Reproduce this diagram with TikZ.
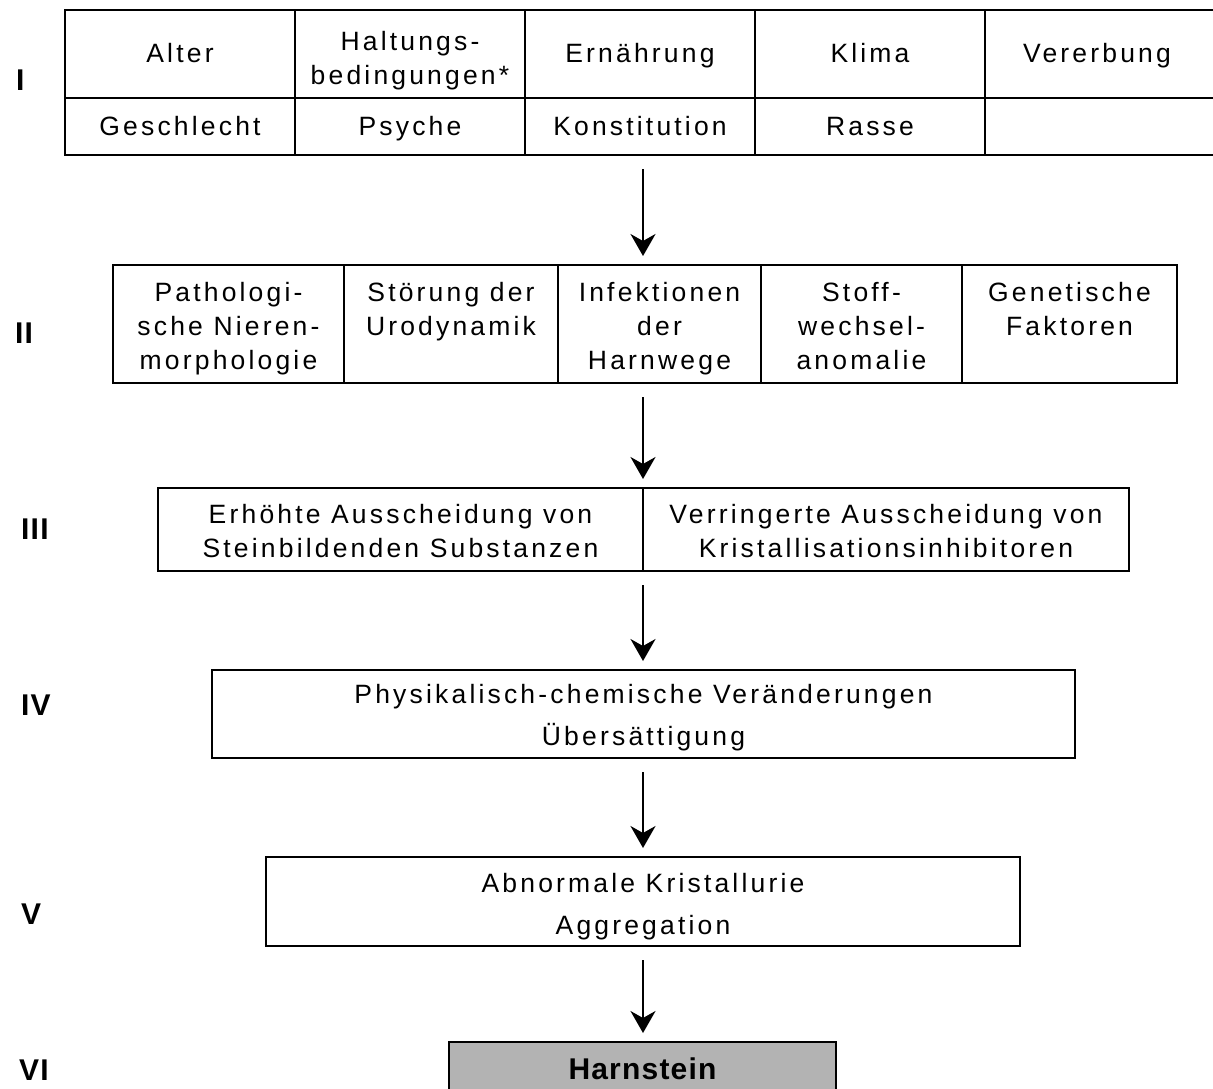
\documentclass[tikz,border=0pt]{standalone}
\usepackage{fontspec}
\setmainfont{Liberation Sans}
\newfontfamily\lsreg[LetterSpace=12]{Liberation Sans}
\newfontfamily\lsbold[LetterSpace=4]{Liberation Sans}
\usetikzlibrary{arrows.meta}
\tikzset{
  cellbox/.style={draw, line width=2.3pt, rectangle, inner sep=0pt, outer sep=0pt},
  txt/.style={font=\lsreg\fontsize{26.5}{34}\selectfont, align=center, inner sep=0pt, anchor=base},
  txtwide/.style={font=\lsreg\fontsize{26.5}{42}\selectfont, align=center, inner sep=0pt, anchor=base},
  roman/.style={font=\lsbold\bfseries\fontsize{30}{36}\selectfont, inner sep=0pt, anchor=base west},
  boldtxt/.style={font=\lsbold\bfseries\fontsize{30}{36}\selectfont, inner sep=0pt, anchor=base},
  arr/.style={-{Stealth[length=22pt,width=25pt,inset=7pt]}, line width=2.3pt, shorten <=14pt, shorten >=9pt},
}
\begin{document}
\begin{tikzpicture}[x=1pt,y=-1pt]
\useasboundingbox (0,0) rectangle (1213,1088);
\clip (0,0) rectangle (1213,1088);
\coordinate (ax) at (643,0);

% Roman numerals
\node[roman] (rI)   at (16,90)   {I};
\node[roman] (rII)  at (15,343)  {II};
\node[roman] (rIII) at (21,539)  {III};
\node[roman] (rIV)  at (21,715)  {IV};
\node[roman] (rV)   at (21,924)  {V};
\node[roman] (rVI)  at (19,1080) {VI};

% Level I table
\foreach \i/\x in {1/65,2/295,3/525,4/755} {
  \node[cellbox, minimum width=230pt, minimum height=88pt, anchor=north west] (a\i) at (\x,10) {};
  \node[cellbox, minimum width=230pt, minimum height=57pt, anchor=north west] (b\i) at (\x,98) {};
}
\node[cellbox, minimum width=260pt, minimum height=88pt, anchor=north west] (a5) at (985,10) {};
\node[cellbox, minimum width=260pt, minimum height=57pt, anchor=north west] (b5) at (985,98) {};

\node[txt] (ta1) at (180,62)  {Alter};
\node[txt] (ta2) at (410,84)  {Haltungs-\\bedingungen*};
\node[txt] (ta3) at (640,62)  {Ernährung};
\node[txt] (ta4) at (870,62)  {Klima};
\node[txt] (ta5) at (1097,62) {Vererbung};
\node[txt] (tb1) at (180,135) {Geschlecht};
\node[txt] (tb2) at (410,135) {Psyche};
\node[txt] (tb3) at (640,135) {Konstitution};
\node[txt] (tb4) at (870,135) {Rasse};

% Level II table
\node[cellbox, minimum width=231pt, minimum height=118pt, anchor=north west] (c1) at (113,265) {};
\node[cellbox, minimum width=214pt, minimum height=118pt, anchor=north west] (c2) at (344,265) {};
\node[cellbox, minimum width=203pt, minimum height=118pt, anchor=north west] (c3) at (558,265) {};
\node[cellbox, minimum width=201pt, minimum height=118pt, anchor=north west] (c4) at (761,265) {};
\node[cellbox, minimum width=215pt, minimum height=118pt, anchor=north west] (c5) at (962,265) {};

\node[txt] (tc1) at (228.5,369) {Pathologi-\\sche Nieren-\\morphologie};
\node[txt] (tc2) at (451,335)   {Störung der\\Urodynamik};
\node[txt] (tc3) at (659.5,369) {Infektionen\\der\\Harnwege};
\node[txt] (tc4) at (861.5,369) {Stoff-\\wechsel-\\anomalie};
\node[txt] (tc5) at (1069.5,335){Genetische\\Faktoren};

% Level III
\node[cellbox, minimum width=485pt, minimum height=83pt, anchor=north west] (d1) at (158,488) {};
\node[cellbox, minimum width=486pt, minimum height=83pt, anchor=north west] (d2) at (643,488) {};
\node[txt] (td1) at (400.5,557) {Erhöhte Ausscheidung von\\Steinbildenden Substanzen};
\node[txt] (td2) at (886,557)   {Verringerte Ausscheidung von\\Kristallisationsinhibitoren};

% Level IV
\node[cellbox, minimum width=863pt, minimum height=88pt, anchor=north west] (e) at (212,670) {};
\node[txtwide] (te) at (643.5,745) {Physikalisch-chemische Veränderungen\\Übersättigung};

% Level V
\node[cellbox, minimum width=754pt, minimum height=89pt, anchor=north west] (f) at (266,857) {};
\node[txtwide] (tf) at (643,934) {Abnormale Kristallurie\\Aggregation};

% Level VI
\node[cellbox, fill={rgb,255:red,179;green,179;blue,179}, minimum width=387pt, minimum height=80pt, anchor=north west] (g) at (449,1042) {};
\node[boldtxt] (tg) at (642.5,1079) {Harnstein};

% Arrows
\draw[arr] (b3.south -| ax) -- (c3.north -| ax);
\draw[arr] (c3.south -| ax) -- (d1.north -| ax);
\draw[arr] (d1.south -| ax) -- (e.north -| ax);
\draw[arr] (e.south -| ax) -- (f.north -| ax);
\draw[arr] (f.south -| ax) -- (g.north -| ax);
\end{tikzpicture}
\end{document}
